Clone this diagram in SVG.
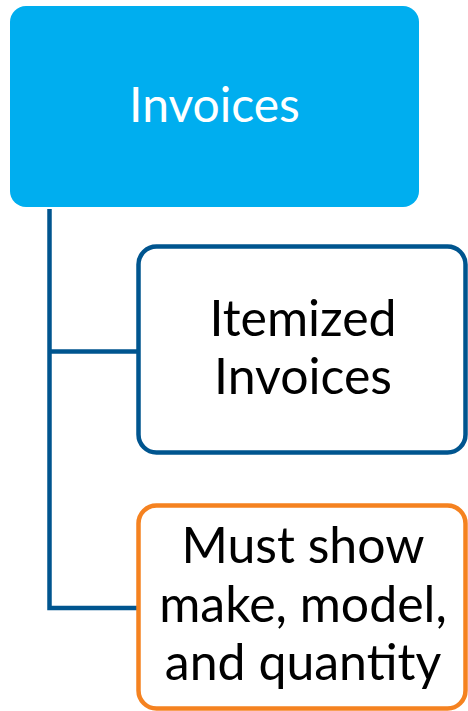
<svg xmlns="http://www.w3.org/2000/svg" width="468" height="711" viewBox="0 0 468 711">
<style>
.t{font-family:Lato,"Open Sans","Liberation Sans",sans-serif;font-size:50px;text-anchor:middle}
.c{fill:none;stroke:#00558F;stroke-width:4.5}
</style>
<rect width="468" height="711" fill="#fff"/>
<g id="connectors">
<path class="c" d="M49.5 209 V608 H139"/>
<path class="c" d="M49.5 351.5 H139"/>
</g>
<g id="invoices">
<rect x="10" y="6" width="409" height="201" rx="16" fill="#00AEEF"/>
<text class="t" x="214.5" y="122" fill="#fff" style="font-size:48px">Invoices</text>
</g>
<g id="itemized">
<rect x="138.5" y="246.5" width="327" height="206" rx="18" fill="#fff" stroke="#00558F" stroke-width="4.5"/>
<text class="t" x="303" y="336">Itemized</text>
<text class="t" x="303" y="394">Invoices</text>
</g>
<g id="must">
<rect x="138.5" y="505.5" width="327" height="203" rx="18" fill="#fff" stroke="#F58220" stroke-width="4.5"/>
<text class="t" x="303" y="563">Must show</text>
<text class="t" x="303" y="622">make, model,</text>
<text class="t" x="303" y="680">and quantity</text>
</g>
</svg>
